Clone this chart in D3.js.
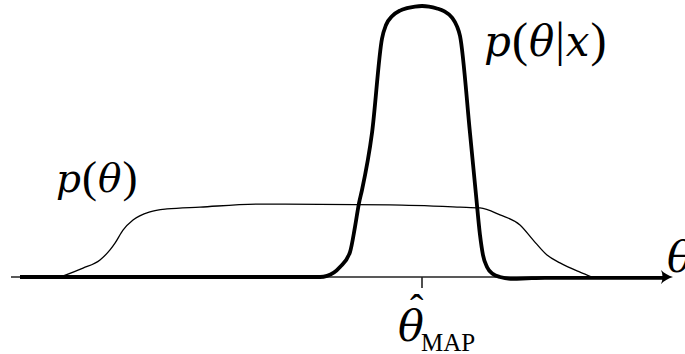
<!DOCTYPE html>
<html>
<head>
<meta charset="utf-8">
<script src="https://cdn.jsdelivr.net/npm/d3@7"></script>
<style>
  html, body { margin: 0; padding: 0; background: #fff; }
  svg { display: block; }
</style>
</head>
<body>
<svg id="chart" width="685" height="354"></svg>
<script>
// Parameter axis θ (MAP estimate at θ = 0) and density values.
const priorTheta = [-3.62, -3.39, -3.22, -3.12, -3.07, -2.99, -2.89, -2.72, -2.55, -2.22, -1.60, -0.32, 0.38, 0.58, 0.78, 0.98, 1.11, 1.25, 1.38, 1.58, 1.70];
const priorDensity = [0.000, 0.033, 0.063, 0.100, 0.125, 0.173, 0.210, 0.240, 0.251, 0.258, 0.269, 0.266, 0.258, 0.255, 0.229, 0.192, 0.137, 0.081, 0.052, 0.018, 0.000];

const postTheta = [-4.02, -1.40, -1.02, -0.95, -0.82, -0.72, -0.67, -0.63, -0.60, -0.50, -0.40, -0.36, -0.30, -0.22, -0.15, -0.07, 0.00, 0.07, 0.15, 0.22, 0.30, 0.35, 0.38, 0.48, 0.54, 0.58, 0.61, 0.65, 0.71, 0.78, 0.91, 1.05, 1.23, 1.60, 2.43];
const postDensity = [0.000, 0.000, 0.000, 0.004, 0.037, 0.092, 0.185, 0.273, 0.321, 0.531, 0.880, 0.930, 0.962, 0.983, 0.992, 0.998, 1.000, 0.998, 0.991, 0.981, 0.957, 0.925, 0.890, 0.531, 0.303, 0.155, 0.081, 0.037, 0.011, 0.000, -0.007, -0.005, -0.003, -0.003, -0.003];

const thetaMAP = 0;
const axisStart = -4.11, axisEnd = 2.51;

const italicFont = '"DejaVu Serif", serif';
const uprightFont = '"Liberation Serif", "Times New Roman", serif';

const svg = d3.select("#chart");

const x = d3.scaleLinear().domain([-4.1, 2.5]).range([12, 672]);
const y = d3.scaleLinear().domain([0, 1]).range([277, 6]);

// horizontal θ axis (thin) with arrow head
svg.append("line")
  .attr("x1", x(axisStart)).attr("x2", x(axisEnd) - 4)
  .attr("y1", y(0)).attr("y2", y(0))
  .attr("stroke", "#222").attr("stroke-width", 1.4);

// tick at the MAP estimate
svg.append("line")
  .attr("x1", x(thetaMAP)).attr("x2", x(thetaMAP))
  .attr("y1", y(0)).attr("y2", y(0) + 11)
  .attr("stroke", "#222").attr("stroke-width", 1.6);

const line = d3.line()
  .x(d => x(d[0]))
  .y(d => y(d[1]))
  .curve(d3.curveMonotoneX);

// prior p(θ): thin
svg.append("path")
  .datum(d3.zip(priorTheta, priorDensity))
  .attr("d", line)
  .attr("fill", "none")
  .attr("stroke", "#000")
  .attr("stroke-width", 1.3);

// posterior p(θ|x): thick
svg.append("path")
  .datum(d3.zip(postTheta, postDensity))
  .attr("d", line)
  .attr("fill", "none")
  .attr("stroke", "#000")
  .attr("stroke-width", 3.8)
  .attr("stroke-linejoin", "round");

// arrow head at the end of the axis
const ax = x(axisEnd), ay = y(0);
svg.append("path")
  .attr("d", `M${ax},${ay} C${ax - 5},${ay - 1.5} ${ax - 9},${ay - 4} ${ax - 12},${ay - 7}
              C${ax - 10},${ay - 3} ${ax - 10},${ay + 3} ${ax - 12},${ay + 7}
              C${ax - 9},${ay + 4} ${ax - 5},${ay + 1.5} ${ax},${ay} Z`)
  .attr("fill", "#000");

// math-style label: italic symbols, upright delimiters
function label(parts, px, py, italicSize, uprightSize) {
  const t = svg.append("text")
    .attr("x", px).attr("y", py)
    .attr("fill", "#000");
  parts.forEach(([s, it]) => {
    t.append("tspan")
      .attr("font-family", it ? italicFont : uprightFont)
      .attr("font-style", it ? "italic" : "normal")
      .attr("font-size", it ? italicSize : uprightSize)
      .text(s);
  });
  return t;
}

// curve labels
label([["p", 1], ["(", 0], ["θ", 1], ["|", 0], ["x", 1], [")", 0]], 484, 56, 42, 48)
  .attr("letter-spacing", 1);
label([["p", 1], ["(", 0], ["θ", 1], [")", 0]], 56, 192, 39, 45)
  .attr("letter-spacing", 1);

// axis name
label([["θ", 1]], 667, 272, 43, 43);

// θ̂_MAP label under the tick
label([["θ", 1]], 398, 341, 43, 43);
label([["ˆ", 0]], x(thetaMAP) - 12, 322, 40, 40);
label([["MAP", 0]], 421, 351, 25, 25);
</script>
</body>
</html>
